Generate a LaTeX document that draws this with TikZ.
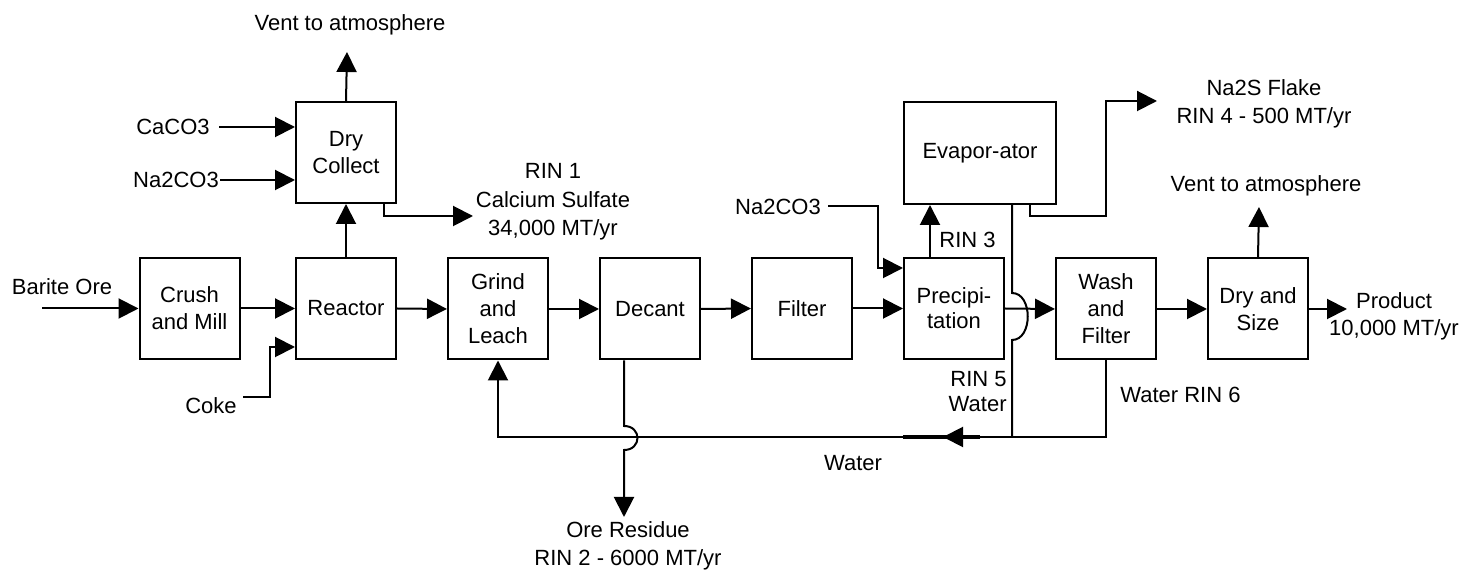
\documentclass[tikz,border=0pt]{standalone}
\usepackage{fontspec}
\setmainfont{Liberation Sans}
\usetikzlibrary{arrows.meta}
\begin{document}
\begin{tikzpicture}[x=0.5pt,y=-0.5pt,
  every node/.style={font=\fontsize{11}{13.5}\selectfont, inner sep=0pt},
  box/.style={draw, line width=1pt, minimum width=50pt, minimum height=50.5pt, align=center},
  lbl/.style={align=center},
  conn/.style={line width=1pt},
  tip/.style={-{Triangle[length=10pt,width=10pt]}},
  arr/.style={line width=1pt, tip}]
\useasboundingbox (0,0) rectangle (1464,571);

% process boxes
\node[box] (crush) at (189.5,308.5) {Crush\\and Mill};
\node[box] (reactor) at (346,308.5) {Reactor};
\node[box] (dry) at (346,152.5) {Dry\\Collect};
\node[box] (grind) at (498,309) {Grind\\and\\Leach};
\node[box] (decant) at (650,309) {Decant};
\node[box] (filter) at (802,308.5) {Filter};
\node[box, font=\fontsize{11}{12.5}\selectfont] (precip) at (954,308.5) {Precipi-\\tation};
\node[box, minimum width=76pt, minimum height=51pt] (evap) at (980,153) {Evapor-ator};
\node[box] (wash) at (1106,309) {Wash\\and\\Filter};
\node[box] (drysize) at (1258,309) {Dry and\\Size};

% labels
\node[lbl] (barite) at (62,287) {Barite Ore};
\node[lbl] (coke) at (211,406) {Coke};
\node[lbl] (caco3) at (173,127) {CaCO3};
\node[lbl] (naco1) at (176,180) {Na2CO3};
\node[lbl] (vent1) at (350,25) {Vent to atmosphere};
\node[lbl, font=\fontsize{11}{14.25}\selectfont] (rin1) at (553,202) {RIN 1\\Calcium Sulfate\\34,000 MT/yr};
\node[lbl] (naco2) at (778,207) {Na2CO3};
\node[lbl, anchor=west] (rin3) at (939,240) {RIN 3};
\node[lbl, font=\fontsize{11}{14}\selectfont] (na2s) at (1264,104) {Na2S Flake\\RIN 4 - 500 MT/yr};
\node[lbl] (vent2) at (1266,186) {Vent to atmosphere};
\node[lbl, font=\fontsize{11}{13.5}\selectfont] (prod) at (1394,316) {Product\\10,000 MT/yr};
\node[lbl, anchor=east, align=right, font=\fontsize{11}{12.5}\selectfont] (rin5) at (1007,392) {RIN 5\\Water};
\node[lbl, anchor=west] (rin6) at (1120,395) {Water RIN 6};
\node[lbl] (water) at (853,463) {Water};
\node[lbl, font=\fontsize{11}{14}\selectfont] (ore) at (628,546) {Ore Residue\\RIN 2 - 6000 MT/yr};

% free-end coordinates
\coordinate (bS) at (42,308.5);
\coordinate (cokeS) at (243,397);
\coordinate (cokeM) at (270,347);
\coordinate (caS) at (219,127);
\coordinate (naS) at (220,180);
\coordinate (v1) at (347,52);
\coordinate (r1a) at (384,216);
\coordinate (r1e) at (473,216);
\coordinate (n2S) at (828,206);
\coordinate (n2M) at (878,268);
\coordinate (prodE) at (1347,309);
\coordinate (v2) at (1259,207);
\coordinate (e1) at (1030,216);
\coordinate (e2) at (1106,101);
\coordinate (e3) at (1157,101);
\coordinate (ret) at (1106,437);
\coordinate (oreE) at (624,517);

% connectors
\draw[arr] (bS) -- (crush.west);
\draw[arr] (crush.east) -- (reactor.west);
\draw[arr] (cokeS) -| (cokeM) -- (cokeM -| reactor.west);
\draw[arr] (caS) -- (caS -| dry.west);
\draw[arr] (naS) -- (naS -| dry.west);
\draw[arr] (dry.north) -- (v1);
\draw[arr] (reactor.north) -- (dry.south);
\draw[arr] (dry.south -| r1a) -- (r1a) -- (r1e);
\draw[arr] (reactor.east) -- (grind.west);
\draw[arr] (grind.east) -- (decant.west);
\draw[arr] (decant.east) -- (filter.west);
\draw[arr] (filter.east) -- (precip.west);
\draw[arr] (n2S) -| (n2M) -- (n2M -| precip.west);
\draw[arr] (precip.north -| 930,0) -- (evap.south -| 930,0);
\draw[arr] (precip.east) -- (wash.west);
\draw[arr] (wash.east) -- (drysize.west);
\draw[arr] (drysize.east) -- (prodE);
\draw[arr] (drysize.north) -- (v2);
\draw[arr] (evap.south -| e1) -- (e1) -| (e2) -- (e3);
% evaporator return line with jump over main flow
\draw[conn] (evap.south -| 1012,0) -- (1012,293) .. controls (1033,293) and (1033,340) .. (1012,340) -- (1012,437);
% water return
\draw[arr] (wash.south) -- (ret) -| (grind.south);
\draw[line width=2pt] (980,437) -- (903,437);
\draw[arr] (962,437) -- (943,437);
% decant residue with jump over return
\draw[arr] (decant.south -| oreE) -- (624,426) .. controls (642,426) and (642,450) .. (624,450) -- (oreE);
\end{tikzpicture}
\end{document}
